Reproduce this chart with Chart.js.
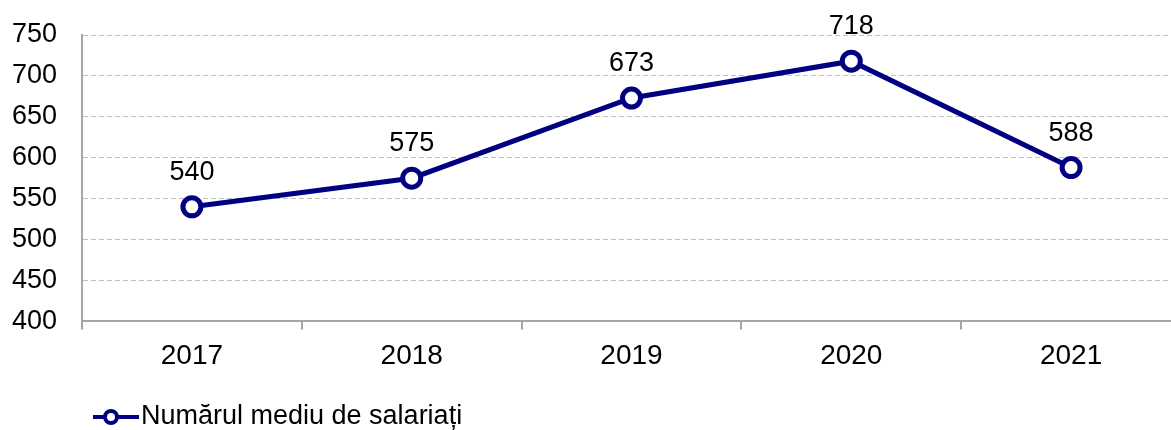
<!DOCTYPE html>
<html>
<head>
<meta charset="utf-8">
<script src="https://cdn.jsdelivr.net/npm/chart.js@4"></script>
<style>
    html, body { margin: 0; padding: 0; background: #fff; overflow: hidden; }
    #wrap { width: 1190px; height: 430px; position: relative; }
</style>
</head>
<body>
<div id="wrap"><canvas id="lineChart"></canvas></div>
<script>
const anos = ["2017", "2018", "2019", "2020", "2021"];
const salariati = [540, 575, 673, 718, 588];
const serieNume = "Numărul mediu de salariați";
const yMin = 400;
const yMax = 750;
const yPas = 50;

const albastru = "#000080";
const fonte = "'Liberation Sans', Arial, sans-serif";

// etichetele cu valori deasupra punctelor
const etichete = {
    id: "etichete",
    afterDatasetsDraw(chart) {
        const ctx = chart.ctx;
        const meta = chart.getDatasetMeta(0);
        ctx.save();
        ctx.font = "27px " + fonte;
        ctx.fillStyle = "#000";
        ctx.textAlign = "center";
        ctx.textBaseline = "alphabetic";
        meta.data.forEach((p, i) => {
            ctx.fillText(chart.data.datasets[0].data[i], p.x, p.y - 27);
        });
        ctx.restore();
    }
};

// legenda de jos: linie + cerc + text
const legenda = {
    id: "legenda",
    afterDraw(chart) {
        const ctx = chart.ctx;
        const y = 417;
        ctx.save();
        ctx.strokeStyle = albastru;
        ctx.lineWidth = 4;
        ctx.beginPath();
        ctx.moveTo(93, y);
        ctx.lineTo(139, y);
        ctx.stroke();
        ctx.beginPath();
        ctx.arc(111, y, 6, 0, Math.PI * 2);
        ctx.fillStyle = "#fff";
        ctx.fill();
        ctx.lineWidth = 4;
        ctx.stroke();
        ctx.font = "27px " + fonte;
        ctx.fillStyle = "#000";
        ctx.textBaseline = "middle";
        ctx.fillText(chart.data.datasets[0].label, 141, y);
        ctx.restore();
    }
};

function desenarGrafic() {
    const ctx = document.getElementById("lineChart");

    new Chart(ctx, {
        type: "line",
        data: {
            labels: anos,
            datasets: [{
                label: serieNume,
                data: salariati,
                borderColor: albastru,
                borderWidth: 5,
                pointRadius: 9,
                pointBorderWidth: 5,
                pointBackgroundColor: "#fff",
                pointBorderColor: albastru,
                pointHoverRadius: 9,
                tension: 0,
                fill: false
            }]
        },
        options: {
            responsive: true,
            maintainAspectRatio: false,
            animation: false,
            layout: {
                autoPadding: false,
                padding: { top: 35, right: 9, bottom: 47, left: 0 }
            },
            plugins: {
                legend: { display: false },
                tooltip: { enabled: false }
            },
            scales: {
                x: {
                    offset: true,
                    grid: {
                        offset: true,
                        drawOnChartArea: false,
                        drawTicks: true,
                        tickLength: 8,
                        color: "#A6A6A6",
                        lineWidth: 2
                    },
                    border: { display: true, color: "#A6A6A6", width: 2 },
                    ticks: {
                        color: "#000",
                        padding: 10,
                        font: { family: fonte, size: 28 }
                    }
                },
                y: {
                    min: yMin,
                    max: yMax,
                    afterFit(scale) {
                        scale.width = 82;
                        scale.paddingTop = 0;
                        scale.paddingBottom = 0;
                    },
                    grid: {
                        drawTicks: false,
                        color: "#C0C0C0",
                        lineWidth: 1
                    },
                    border: { display: true, color: "#A6A6A6", width: 2, dash: [5, 3] },
                    ticks: {
                        stepSize: yPas,
                        color: "#000",
                        padding: 25,
                        font: { family: fonte, size: 27 }
                    }
                }
            }
        },
        plugins: [etichete, legenda]
    });
}

document.addEventListener("DOMContentLoaded", desenarGrafic);
</script>
</body>
</html>
